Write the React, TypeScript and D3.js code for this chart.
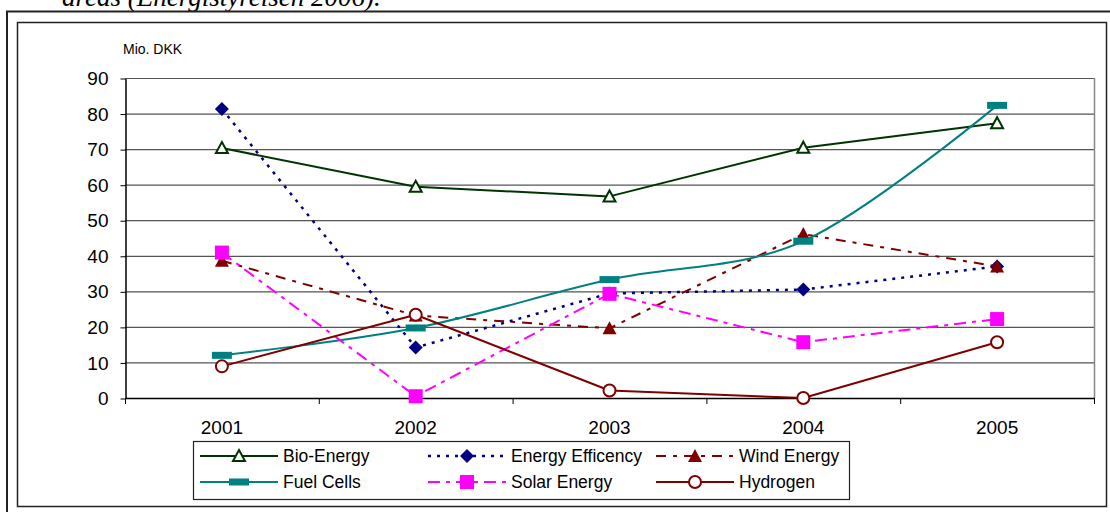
import React, { useEffect, useRef } from 'react';
import * as d3 from 'd3';

const years = ['2001', '2002', '2003', '2004', '2005'];
const bioEnergy = [70.3, 59.4, 56.7, 70.4, 77.3];
const energyEfficiency = [81.3, 14.2, 29.4, 30.5, 37.0];
const windEnergy = [38.6, 23.2, 19.6, 46.1, 37.0];
const fuelCells = [12.0, 19.7, 33.3, 44.1, 82.3];
const solarEnergy = [40.9, 0.5, 29.3, 15.7, 22.2];
const hydrogen = [8.9, 23.4, 2.1, 0, 15.7];
const yTicks = [0, 10, 20, 30, 40, 50, 60, 70, 80, 90];

interface Series {
  name: string;
  values: number[];
  color: string;
  dash: string | null;
  width: number;
  marker: string;
  smooth?: boolean;
}

const series: Series[] = [
  { name: 'Bio-Energy', values: bioEnergy, color: '#003300', dash: null, width: 2, marker: 'openTriangle' },
  { name: 'Energy Efficency', values: energyEfficiency, color: '#000080', dash: '3,6', width: 2.5, marker: 'diamond' },
  { name: 'Wind Energy', values: windEnergy, color: '#800000', dash: '10,7,4,7', width: 2, marker: 'triangle' },
  { name: 'Fuel Cells', values: fuelCells, color: '#008080', dash: null, width: 2, marker: 'bar', smooth: true },
  { name: 'Solar Energy', values: solarEnergy, color: '#FF00FF', dash: '12,6,4,6', width: 2, marker: 'square' },
  { name: 'Hydrogen', values: hydrogen, color: '#800000', dash: null, width: 2, marker: 'circle' },
];

const FONT = "'Liberation Sans', Arial, sans-serif";

function drawMarker(g: any, type: string, color: string, cx: number, cy: number) {
  if (type === 'openTriangle') {
    g.append('path')
      .attr('d', `M${cx},${cy - 6}L${cx + 6},${cy + 5}L${cx - 6},${cy + 5}Z`)
      .attr('fill', '#fff').attr('stroke', color).attr('stroke-width', 2);
  } else if (type === 'triangle') {
    g.append('path')
      .attr('d', `M${cx},${cy - 7}L${cx + 7},${cy + 6}L${cx - 7},${cy + 6}Z`)
      .attr('fill', color);
  } else if (type === 'diamond') {
    g.append('path')
      .attr('d', `M${cx},${cy - 7}L${cx + 7},${cy}L${cx},${cy + 7}L${cx - 7},${cy}Z`)
      .attr('fill', color);
  } else if (type === 'square') {
    g.append('rect').attr('x', cx - 7).attr('y', cy - 7).attr('width', 14).attr('height', 14).attr('fill', color);
  } else if (type === 'bar') {
    g.append('rect').attr('x', cx - 10).attr('y', cy - 3.5).attr('width', 20).attr('height', 7).attr('fill', color);
  } else if (type === 'circle') {
    g.append('circle').attr('cx', cx).attr('cy', cy).attr('r', 6)
      .attr('fill', '#fff').attr('stroke', color).attr('stroke-width', 2);
  }
}

const App: React.FC = () => {
  const svgRef = useRef<SVGSVGElement>(null);
  const width = 1110;
  const height = 512;

  useEffect(() => {
    if (!svgRef.current) return;
    const svg = d3.select(svgRef.current);
    svg.selectAll('*').remove();

    const left = 125, right = 1094, top = 78, bottom = 398;

    // caption fragment + frames
    svg.append('text')
      .attr('x', 62).attr('y', 6)
      .style('font-family', "'Liberation Serif', 'Times New Roman', serif")
      .style('font-style', 'italic')
      .style('font-size', '27px')
      .text('areas (Energistyrelsen 2006).');
    svg.append('rect').attr('x', 7).attr('y', 11.5).attr('width', 1120).attr('height', 520)
      .attr('fill', 'none').attr('stroke', '#222').attr('stroke-width', 2);
    svg.append('rect').attr('x', 17.5).attr('y', 22.5).attr('width', 1089).attr('height', 484)
      .attr('fill', '#fff').attr('stroke', '#222').attr('stroke-width', 1.5);

    const x = d3.scaleBand().domain(years).range([left, right]);
    const y = d3.scaleLinear().domain([0, 90]).range([bottom, top]);
    const cx = (d: string) => (x(d) as number) + x.bandwidth() / 2;

    // gridlines
    svg.append('g').selectAll('line')
      .data(yTicks.filter(t => t > 0))
      .enter().append('line')
      .attr('x1', left).attr('x2', right)
      .attr('y1', d => y(d) + 0.5).attr('y2', d => y(d) + 0.5)
      .attr('stroke', '#555').attr('stroke-width', 1.2);

    // plot right border
    svg.append('line').attr('x1', right + 0.5).attr('x2', right + 0.5).attr('y1', top).attr('y2', bottom)
      .attr('stroke', '#888').attr('stroke-width', 1.5);

    // y axis
    const yAxis = svg.append('g')
      .attr('transform', `translate(${left + 0.5},0.5)`)
      .call(d3.axisLeft(y).tickValues(yTicks).tickSizeInner(5).tickSizeOuter(0).tickPadding(12));
    yAxis.selectAll('path').attr('stroke', '#000').attr('stroke-width', 1.5);
    yAxis.selectAll('line').attr('stroke', '#000');
    yAxis.selectAll('text')
      .style('font-family', FONT).style('font-size', '19px').attr('fill', '#000');

    // x axis
    svg.append('line').attr('x1', left).attr('x2', right + 1).attr('y1', bottom + 0.5).attr('y2', bottom + 0.5)
      .attr('stroke', '#000').attr('stroke-width', 1.5);
    const boundaries = years.map(d => x(d) as number).concat([right]);
    svg.append('g').selectAll('line')
      .data(boundaries)
      .enter().append('line')
      .attr('x1', d => d + 0.5).attr('x2', d => d + 0.5)
      .attr('y1', bottom).attr('y2', bottom + 6)
      .attr('stroke', '#000');
    svg.append('g').selectAll('text')
      .data(years)
      .enter().append('text')
      .attr('x', d => cx(d)).attr('y', 434)
      .attr('text-anchor', 'middle')
      .style('font-family', FONT).style('font-size', '19px')
      .text(d => d);

    svg.append('text').attr('x', 123).attr('y', 54)
      .style('font-family', FONT).style('font-size', '14px')
      .text('Mio. DKK');

    // series
    series.forEach(s => {
      const line = d3.line<number>()
        .x((_, i) => cx(years[i]))
        .y(d => y(d));
      if (s.smooth) line.curve(d3.curveCardinal.tension(0));
      svg.append('path')
        .datum(s.values)
        .attr('d', line)
        .attr('fill', 'none')
        .attr('stroke', s.color)
        .attr('stroke-width', s.width)
        .attr('stroke-dasharray', s.dash)
        .attr('stroke-linejoin', 'round');
      const mg = svg.append('g');
      s.values.forEach((v, i) => drawMarker(mg, s.marker, s.color, cx(years[i]), y(v)));
    });

    // legend
    svg.append('rect').attr('x', 193.5).attr('y', 441.5).attr('width', 656).attr('height', 58)
      .attr('fill', '#fff').attr('stroke', '#222').attr('stroke-width', 1.2);
    series.forEach((s, i) => {
      const col = i % 3;
      const row = Math.floor(i / 3);
      const lx = 200 + col * 228;
      const ly = 456 + row * 26;
      const lg = svg.append('g');
      lg.append('line').attr('x1', lx).attr('x2', lx + 78).attr('y1', ly).attr('y2', ly)
        .attr('stroke', s.color).attr('stroke-width', s.width)
        .attr('stroke-dasharray', s.dash);
      drawMarker(lg, s.marker, s.color, lx + 39, ly);
      lg.append('text').attr('x', lx + 83).attr('y', ly + 6)
        .style('font-family', FONT).style('font-size', '17.5px')
        .text(s.name);
    });
  }, []);

  return (
    <svg ref={svgRef} width={width} height={height}
      style={{ position: 'absolute', left: 0, top: 0, background: '#fff' }} />
  );
};

export default App;
